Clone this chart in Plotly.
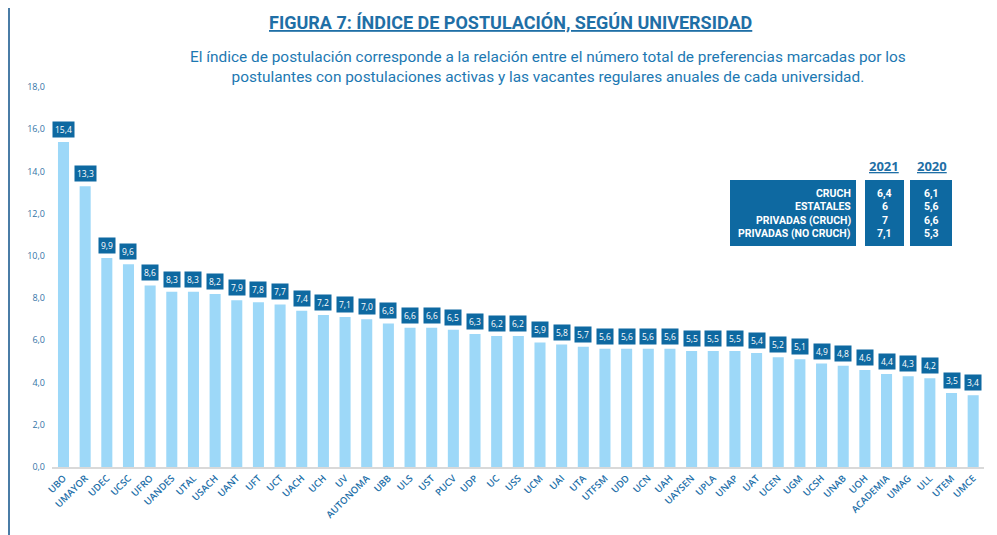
import plotly.graph_objects as go

universidades = ["UBO", "UMAYOR", "UDEC", "UCSC", "UFRO", "UANDES", "UTAL", "USACH", "UANT", "UFT",
                 "UCT", "UACH", "UCH", "UV", "AUTONOMA", "UBB", "ULS", "UST", "PUCV", "UDP",
                 "UC", "USS", "UCM", "UAI", "UTA", "UTFSM", "UDD", "UCN", "UAH", "UAYSEN",
                 "UPLA", "UNAP", "UAT", "UCEN", "UGM", "UCSH", "UNAB", "UOH", "ACADEMIA", "UMAG",
                 "ULL", "UTEM", "UMCE"]
indice = [15.4, 13.3, 9.9, 9.6, 8.6, 8.3, 8.3, 8.2, 7.9, 7.8,
          7.7, 7.4, 7.2, 7.1, 7.0, 6.8, 6.6, 6.6, 6.5, 6.3,
          6.2, 6.2, 5.9, 5.8, 5.7, 5.6, 5.6, 5.6, 5.6, 5.5,
          5.5, 5.5, 5.4, 5.2, 5.1, 4.9, 4.8, 4.6, 4.4, 4.3,
          4.2, 3.5, 3.4]

tabla_grupos = ["CRUCH", "ESTATALES", "PRIVADAS (CRUCH)", "PRIVADAS (NO CRUCH)"]
tabla_2021 = ["6,4", "6", "7", "7,1"]
tabla_2020 = ["6,1", "5,6", "6,6", "5,3"]
tabla_anios = ["2021", "2020"]

OFF = 8  # page body margin
W, H = 997 - OFF, 535 - OFF
ML, MR, MT, MB = 52 - OFF, 13, 87 - OFF, 68
PW, PH = W - ML - MR, H - MT - MB

def px(x):  # screen pixel -> paper
    return (x - OFF - ML) / PW

def py(y):
    return (H + OFF - MB - y) / PH

DARK = "#0e69a1"
LIGHT = "#9dd8f8"
BLUE_TXT = "#1f6fa6"

fig = go.Figure()
fig.add_trace(go.Bar(
    x=universidades, y=indice, marker=dict(color=LIGHT, line=dict(width=0)),
    hoverinfo="x+y"))

annotations = []
for u, v in zip(universidades, indice):
    annotations.append(dict(
        x=u, y=v, xref="x", yref="y", text=f"{v:.1f}".replace(".", ","),
        showarrow=False, yanchor="bottom", yshift=4,
        bgcolor=DARK, borderpad=2,
        font=dict(family="Open Sans", size=8.5, color="white")))

# Title and subtitle
annotations.append(dict(
    x=px(510), y=py(23), xref="paper", yref="paper", showarrow=False,
    text="<u>FIGURA 7: ÍNDICE DE POSTULACIÓN, SEGÚN UNIVERSIDAD</u>",
    font=dict(family="Roboto", size=18, color=BLUE_TXT, weight="bold"),
    xanchor="center", yanchor="middle"))
annotations.append(dict(
    x=px(548), y=py(67), xref="paper", yref="paper", showarrow=False, align="center",
    text="El índice de postulación corresponde a la relación entre el número total de preferencias marcadas por los"
         "<br>postulantes con postulaciones activas y las vacantes regulares anuales de cada universidad.",
    font=dict(family="Roboto", size=15.4, color="#1c78b2"),
    xanchor="center", yanchor="middle"))

# Table
shapes = []
for (x0, x1) in [(730, 856), (865, 904), (910, 952)]:
    shapes.append(dict(type="rect", xref="paper", yref="paper",
                       x0=px(x0), x1=px(x1), y0=py(246), y1=py(180),
                       fillcolor=DARK, line=dict(width=0), layer="above"))
for anio, cx in zip(tabla_anios, [884, 932]):
    annotations.append(dict(
        x=px(cx), y=py(166), xref="paper", yref="paper", showarrow=False,
        text=f"<u>{anio}</u>", font=dict(family="Open Sans", size=13, color=BLUE_TXT, weight="bold"),
        xanchor="center", yanchor="middle"))
row_y = [193, 206.5, 220, 233.5]
for g, a, b, ry in zip(tabla_grupos, tabla_2021, tabla_2020, row_y):
    annotations.append(dict(x=px(853), y=py(ry), xref="paper", yref="paper", showarrow=False,
                            text=g, xanchor="right", yanchor="middle",
                            font=dict(family="Roboto", size=10.5, color="white", weight="bold")))
    annotations.append(dict(x=px(884.5), y=py(ry), xref="paper", yref="paper", showarrow=False,
                            text=a, xanchor="center", yanchor="middle",
                            font=dict(family="Roboto", size=10.5, color="white", weight="bold")))
    annotations.append(dict(x=px(931), y=py(ry), xref="paper", yref="paper", showarrow=False,
                            text=b, xanchor="center", yanchor="middle",
                            font=dict(family="Roboto", size=10.5, color="white", weight="bold")))

# Left border line (as close to the page edge as the figure allows)
shapes.append(dict(type="line", xref="paper", yref="paper",
                   x0=px(OFF + 1), x1=px(OFF + 1), y0=py(H + OFF + 5), y1=py(OFF - 5),
                   line=dict(color="#4a7ca6", width=2)))

fig.update_layout(
    width=W, height=H,
    margin=dict(l=ML, r=MR, t=MT, b=MB, pad=0),
    paper_bgcolor="white", plot_bgcolor="white",
    separators=",.",
    bargap=0.49,
    showlegend=False,
    xaxis=dict(tickangle=-45, showgrid=False, showline=True, linecolor="#d9d9d9", linewidth=2,
               ticks="", tickfont=dict(family="Open Sans", size=9.5, color="#1b6ea8", weight=600),
               fixedrange=True),
    yaxis=dict(range=[0, 18], dtick=2, tickformat=".1f", showgrid=False, zeroline=False,
               showline=False, ticks="", ticklabelstandoff=6,
               tickfont=dict(family="Open Sans", size=9, color="#3474a6"), fixedrange=True),
    annotations=annotations,
    shapes=shapes,
)

fig.write_html("out.html")
